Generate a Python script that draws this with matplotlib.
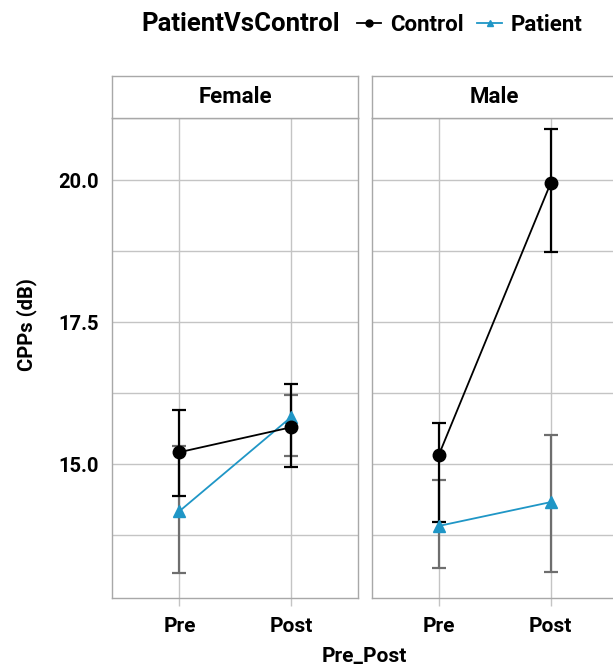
import matplotlib
matplotlib.use("Agg")
import matplotlib.pyplot as plt
from matplotlib.lines import Line2D
import numpy as np

plt.rcParams['font.family'] = ['Roboto', 'DejaVu Sans']
plt.rcParams['font.weight'] = 'bold'

phases = ["Pre", "Post"]
panels = ["Female", "Male"]
groups = ["Control", "Patient"]

# means and error bar limits per panel, per group, per phase
means = {
    "Female": {"Control": [15.21, 15.65], "Patient": [14.17, 15.83]},
    "Male":   {"Control": [15.16, 19.95], "Patient": [13.91, 14.33]},
}
lower = {
    "Female": {"Control": [14.44, 14.95], "Patient": [13.08, 15.14]},
    "Male":   {"Control": [13.98, 18.74], "Patient": [13.17, 13.09]},
}
upper = {
    "Female": {"Control": [15.95, 16.41], "Patient": [15.32, 16.21]},
    "Male":   {"Control": [15.72, 20.91], "Patient": [14.72, 15.51]},
}

line_colors = {"Control": "#000000", "Patient": "#1f96c6"}
err_colors = {"Control": "#000000", "Patient": "#6e6e6e"}
markers = {"Control": "o", "Patient": "^"}
msizes = {"Control": 9, "Patient": 8}

W, H = 613, 671
fig = plt.figure(figsize=(W / 100, H / 100), dpi=100)

def fx(px):
    return px / W

def fy(py):
    return 1 - py / H

ax_top, ax_bot = 117.5, 598
strip_top = 76
lefts = [112.3, 371.7]
width = 246

grid_c = "#c4c4c4"
border_c = "#a8a8a8"

axes = []
for i, panel in enumerate(panels):
    ax = fig.add_axes([fx(lefts[i]), fy(ax_bot), width / W, (ax_bot - ax_top) / H])
    axes.append(ax)
    x = np.arange(len(phases))
    ax.set_xlim(-0.6, 1.6)
    ax.set_ylim(12.64, 21.11)
    ax.set_yticks([15.0, 17.5, 20.0])
    ax.set_yticks([13.75, 16.25, 18.75], minor=True)
    ax.set_xticks(x)
    ax.set_xticklabels(phases)
    ax.grid(True, which="both", color=grid_c, linewidth=1.0, zorder=0)
    ax.set_axisbelow(True)
    for s in ax.spines.values():
        s.set_color(border_c)
        s.set_linewidth(1.0)
    ax.tick_params(axis="x", length=6, color=grid_c, width=1.0, labelsize=15, pad=8)
    ax.tick_params(axis="y", which="both", length=0, labelsize=14.5, pad=10)
    if i > 0:
        ax.tick_params(axis="y", labelleft=False)
    else:
        ax.set_yticklabels(["15.0", "17.5", "20.0"])
    # error bars first (patient, then control), then lines
    z = 3
    for g in ["Patient", "Control"]:
        m = np.array(means[panel][g])
        lo = np.array(lower[panel][g])
        hi = np.array(upper[panel][g])
        ax.errorbar(x, m, yerr=[m - lo, hi - m], fmt="none", ecolor=err_colors[g],
                    elinewidth=1.6, capsize=5, capthick=1.6, zorder=z)
        z += 1
    for g in ["Patient", "Control"]:
        ax.plot(x, means[panel][g], color=line_colors[g], lw=1.3, marker=markers[g],
                ms=msizes[g], zorder=z)
        z += 1
    # strip
    sax = fig.add_axes([fx(lefts[i]), fy(ax_top), width / W, (ax_top - strip_top) / H])
    sax.set_xticks([])
    sax.set_yticks([])
    for s in sax.spines.values():
        s.set_color(border_c)
        s.set_linewidth(1.0)
    sax.text(0.5, 0.5, panel, ha="center", va="center", fontsize=16, transform=sax.transAxes)

fig.text(fx(364), fy(656), "Pre_Post", ha="center", va="center", fontsize=15)
fig.text(fx(27), fy(325), "CPPs (dB)", ha="center", va="center", rotation=90, fontsize=14.5)

# legend
fig.text(fx(141), fy(24), "PatientVsControl", ha="left", va="center", fontsize=18.5, fontweight="bold")
handles = [Line2D([], [], color=line_colors[g], lw=1.3, marker=markers[g], ms=5) for g in groups]
fig.legend(handles, groups, loc="center left", bbox_to_anchor=(fx(357), fy(25)), ncol=2,
           frameon=False, fontsize=16, handlelength=1.1, handletextpad=0.4, columnspacing=0.6,
           borderpad=0, borderaxespad=0)

fig.savefig("out.png", dpi=100)
